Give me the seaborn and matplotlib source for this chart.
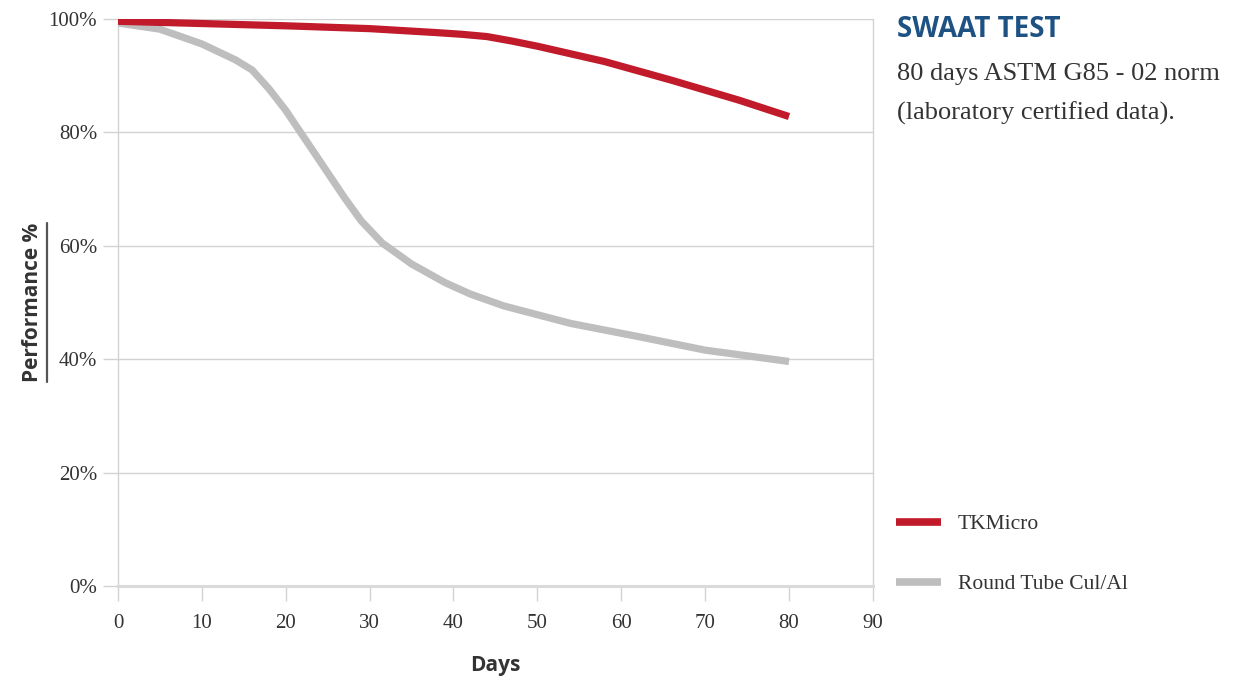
import matplotlib.pyplot as plt
import matplotlib.ticker as mticker
from matplotlib.lines import Line2D
import pandas as pd
import seaborn as sns

# values (performance % vs days)
RED_DAYS = [0, 10, 20, 30, 38, 41, 44, 47, 50, 58, 66, 74, 80]
RED_PERF = [99.6, 99.2, 98.8, 98.3, 97.6, 97.3, 96.9, 96.1, 95.2, 92.5, 89.2, 85.7, 82.8]
GRAY_DAYS = [0, 5, 10, 14, 16, 18, 20, 22, 24.5, 27, 29, 31.5, 35, 39, 42,
             46, 54, 62, 70, 80]
GRAY_PERF = [99.3, 98.2, 95.6, 92.8, 91.0, 87.7, 83.9, 79.5, 74.0, 68.5, 64.4,
             60.5, 56.8, 53.5, 51.5, 49.4, 46.3, 44.0, 41.6, 39.6]
SERIES = ["TKMicro", "Round Tube Cul/Al"]
X_TICKS = [0, 10, 20, 30, 40, 50, 60, 70, 80, 90]
Y_TICKS = [0, 20, 40, 60, 80, 100]

RED = "#C01A2B"
GRAY = "#BEBEBE"
GRID = "#D2D2D2"
TEXT = "#333333"
BLUE = "#1E5283"
SERIF = ["Liberation Serif", "DejaVu Serif"]
SANS = ["Open Sans", "DejaVu Sans"]

sns.set_theme(style="white")
plt.rcParams["font.family"] = SERIF

df = pd.concat([
    pd.DataFrame({"Days": RED_DAYS, "Perf": RED_PERF, "Series": SERIES[0]}),
    pd.DataFrame({"Days": GRAY_DAYS, "Perf": GRAY_PERF, "Series": SERIES[1]}),
])

fig = plt.figure(figsize=(12.35, 6.76), dpi=100)
ax = fig.add_axes([0.0955, 0.1331, 0.6113, 0.8388])

sns.lineplot(data=df, x="Days", y="Perf", hue="Series", hue_order=SERIES,
             palette=[RED, GRAY], linewidth=5.2, ax=ax, legend=False,
             solid_capstyle="butt", solid_joinstyle="round", zorder=3)
# red drawn above gray
ax.lines[0].set_zorder(4)

ax.set_xlim(0, 90)
ax.set_ylim(0, 100)
ax.set_xticks(X_TICKS)
ax.set_yticks(Y_TICKS)
ax.yaxis.set_major_formatter(mticker.FuncFormatter(lambda v, _: f"{v:.0f}%"))
ax.grid(axis="y", color=GRID, linewidth=1)
ax.set_axisbelow(True)

for side in ["left", "right"]:
    ax.spines[side].set_color(GRID)
    ax.spines[side].set_linewidth(1)
ax.spines["top"].set_visible(False)
ax.spines["bottom"].set_color("#DADADA")
ax.spines["bottom"].set_linewidth(2.2)

ax.tick_params(axis="both", which="major", color=GRID, width=1, length=11,
               labelsize=15, labelcolor=TEXT)
ax.tick_params(axis="x", pad=9, bottom=True)
ax.tick_params(axis="y", pad=4, left=True)

ax.set_xlabel("Days", fontsize=15, fontweight="bold", color=TEXT,
              family=SANS, labelpad=16)
ax.set_ylabel("Performance %", fontsize=15, fontweight="bold", color=TEXT,
              family=SANS, labelpad=4)

# title block on the right
fig.text(0.726, 0.956, "SWAAT TEST", fontsize=20, fontweight="bold",
         color=BLUE, family=SANS, va="center")
fig.text(0.726, 0.891, "80 days ASTM G85 - 02 norm", fontsize=19,
         color=TEXT, va="center")
fig.text(0.726, 0.833, "(laboratory certified data).", fontsize=19,
         color=TEXT, va="center")

handles = [Line2D([], [], color=RED, linewidth=5.5, solid_capstyle="butt"),
           Line2D([], [], color=GRAY, linewidth=5.5, solid_capstyle="butt")]
fig.legend(handles, SERIES, loc="center left", bbox_to_anchor=(0.710, 0.180),
           frameon=False, fontsize=15.5, handlelength=2.1, handletextpad=0.75,
           labelspacing=1.85, labelcolor=TEXT)

# underline of the rotated y label
fig.canvas.draw()
bb = ax.yaxis.label.get_window_extent(fig.canvas.get_renderer())
x_line = (bb.x1 + 4) / fig.bbox.width
fig.add_artist(Line2D([x_line, x_line], [bb.y0 / fig.bbox.height, bb.y1 / fig.bbox.height],
                      color="#555555", linewidth=1.6))

fig.savefig("out.png", dpi=100)
